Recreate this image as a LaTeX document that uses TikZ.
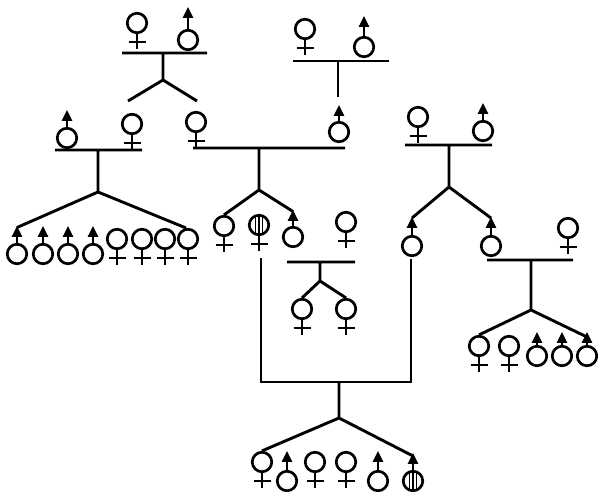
\documentclass[tikz,border=0pt]{standalone}
\usetikzlibrary{arrows.meta}
\begin{document}
\begin{tikzpicture}[x=1pt,y=-1pt,
  ind/.style={circle,draw,minimum size=19.5pt,inner sep=0pt,line width=2.7pt},
  striped/.style={path picture={\foreach \d in {-3.5,0,3.5}
      \draw[line width=1.5pt] ([xshift=\d pt]path picture bounding box.north) -- ([xshift=\d pt]path picture bounding box.south);}},
  sign/.style={line width=2.7pt},
  tip/.style={sign,-{Triangle[length=11pt,width=10pt]}},
  kin/.style={line width=2.9pt}
]
\useasboundingbox (0,0) rectangle (598,492);

% ---------- individuals ----------
% generation I
\node[ind] (A1) at (137,23) {};
\node[ind] (A2) at (188,40) {};
\node[ind] (B1) at (305,29) {};
\node[ind] (B2) at (364,47) {};
% generation II
\node[ind] (C1) at (67,138) {};
\node[ind] (C2) at (132,124) {};
\node[ind] (D1) at (196,122) {};
\node[ind] (D2) at (339,132) {};
\node[ind] (E1) at (418,117) {};
\node[ind] (E2) at (483,131) {};
% generation III
\node[ind] (c1) at (17,254) {};
\node[ind] (c2) at (43,254) {};
\node[ind] (c3) at (68,254) {};
\node[ind] (c4) at (93,254) {};
\node[ind] (c5) at (117,239) {};
\node[ind] (c6) at (142,239) {};
\node[ind] (c7) at (165,239) {};
\node[ind] (c8) at (188,239) {};
\node[ind] (F1) at (224,226) {};
\node[ind,striped] (F2) at (259,225) {};
\node[ind] (F3) at (293,237) {};
\node[ind] (G) at (346,222) {};
\node[ind] (I1) at (412,246) {};
\node[ind] (I2) at (491,246) {};
\node[ind] (J) at (568,228) {};
% generation IV
\node[ind] (H1) at (302,309) {};
\node[ind] (H2) at (346,309) {};
\node[ind] (K1) at (479,346) {};
\node[ind] (K2) at (509,346) {};
\node[ind] (K3) at (537,356) {};
\node[ind] (K4) at (562,356) {};
\node[ind] (K5) at (587,356) {};
% generation V
\node[ind] (L1) at (262,462) {};
\node[ind] (L2) at (287,481) {};
\node[ind] (L3) at (315,462) {};
\node[ind] (L4) at (346,462) {};
\node[ind] (L5) at (378,481) {};
\node[ind,striped] (L6) at (413,481) {};

% female signs: stem and bar below the circle
\foreach \n in {A1,B1,C2,D1,E1,c5,c6,c7,c8,F1,F2,G,J,H1,H2,K1,K2,L1,L3,L4}
  \draw[sign] (\n.south) -- ++(0,15) ([shift={(-8.5,8)}]\n.south) -- ++(17,0);

% male signs: arrow above the circle
\foreach \n/\l in {A2/22,B2/20,C1/17,D2/16,E2/17,c1/17,c2/17,c3/17,c4/17,
                   F3/16,I1/18,I2/18,K3/13,K4/13,K5/13,L2/19,L5/19,L6/17}
  \draw[tip] (\n.north) -- ++(0,-\l);

% ---------- matings and sibships ----------
% A1 x A2
\coordinate (aL) at (122,53); \coordinate (aR) at (207,53);
\coordinate (aM) at (163,53); \coordinate (aJ) at (163,80);
\coordinate (a1) at (128,101); \coordinate (a2) at (197,101);
\draw[kin] (aL) -- (aR) (aM) -- (aJ) (a1) -- (aJ) -- (a2);
% B1 x B2
\coordinate (bL) at (293,61); \coordinate (bR) at (389,61);
\coordinate (bM) at (338,61); \coordinate (bJ) at (338,97);
\draw[kin] (bL) -- (bR) (bM) -- (bJ);
% C1 x C2
\coordinate (cL) at (55,150); \coordinate (cR) at (142,150);
\coordinate (cM) at (98,150); \coordinate (cJ) at (98,192);
\coordinate (cc1) at (17,227.5); \coordinate (cc2) at (186,228);
\draw[kin] (cL) -- (cR) (cM) -- (cJ) (cc1) -- (cJ) -- (cc2);
% D1 x D2
\coordinate (dL) at (193,148); \coordinate (dR) at (345,148);
\coordinate (dM) at (259,148); \coordinate (dJ) at (259,190);
\coordinate (d2) at (293,211.5);
\draw[kin] (dL) -- (dR) (dM) -- (dJ) (F1.north) -- (dJ) -- (d2);
% E1 x E2
\coordinate (eL) at (405,145); \coordinate (eR) at (492,145);
\coordinate (eM) at (449,145); \coordinate (eJ) at (449,187);
\coordinate (e1) at (412,218); \coordinate (e2) at (491,218);
\draw[kin] (eL) -- (eR) (eM) -- (eJ) (e1) -- (eJ) -- (e2);
% F3 x G
\coordinate (gL) at (287,262); \coordinate (gR) at (355,262);
\coordinate (gM) at (320,262); \coordinate (gJ) at (320,281);
\draw[kin] (gL) -- (gR) (gM) -- (gJ) (H1.north) -- (gJ) -- (H2.north);
% I2 x J
\coordinate (jL) at (487,260); \coordinate (jR) at (573,260);
\coordinate (jM) at (531,260); \coordinate (jJ) at (531,310);
\coordinate (j2) at (587,337);
\draw[kin] (jL) -- (jR) (jM) -- (jJ) (K1.north) -- (jJ) -- (j2);
% F2 x I1
\coordinate (fB) at (261,382); \coordinate (iB) at (411,382);
\coordinate (fM) at (339,382); \coordinate (fJ) at (339,418);
\coordinate (f2) at (413,456);
\draw[kin] ([shift={(2,22)}]F2.south) -- (fB) -- (iB) -- ([shift={(-1,2)}]I1.south);
\draw[kin] (fM) -- (fJ) (L1.north) -- (fJ) -- (f2);
\end{tikzpicture}
\end{document}
